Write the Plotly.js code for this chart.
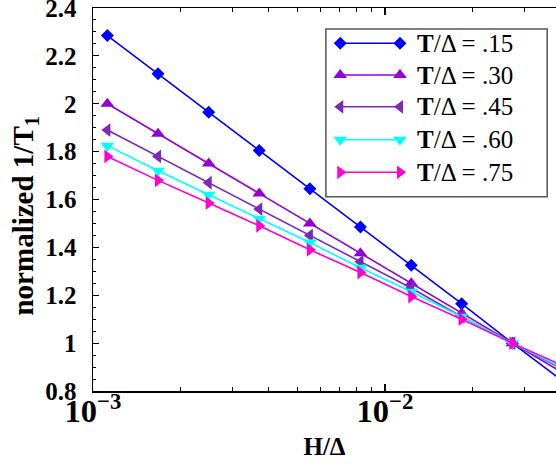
<!DOCTYPE html>
<html>
<head>
<meta charset="utf-8">
<script src="https://cdn.plot.ly/plotly-3.0.1.min.js"></script>
<style>
  html, body { margin: 0; padding: 0; background: #fff; }
  #chart { width: 556px; height: 464px; }
</style>
</head>
<body>
<div id="chart"></div>
<script>
// Field values H/Δ (log scale)
const fieldH = [0.00112, 0.00167, 0.00249, 0.00371, 0.00553, 0.00824, 0.0123, 0.0183, 0.0273, 0.0408];

// Normalized relaxation rate 1/T1 for each temperature
const rateT15 = [2.285, 2.125, 1.965, 1.805, 1.645, 1.485, 1.325, 1.165, 1.00, 0.84];
const rateT30 = [2.00, 1.875, 1.75, 1.625, 1.50, 1.375, 1.25, 1.125, 1.00, 0.875];
const rateT45 = [1.89, 1.78, 1.67, 1.56, 1.45, 1.34, 1.23, 1.11, 1.00, 0.89];
const rateT60 = [1.825, 1.72, 1.62, 1.52, 1.42, 1.315, 1.215, 1.11, 1.00, 0.895];
const rateT75 = [1.78, 1.68, 1.585, 1.49, 1.39, 1.295, 1.195, 1.10, 1.00, 0.905];

const seriesLabels = ['.15', '.30', '.45', '.60', '.75'];

// Y tick positions and labels
const yTickVals = [0.8, 1.0, 1.2, 1.4, 1.6, 1.8, 2.0, 2.2, 2.4];
const yTickText = ['0.8', '1', '1.2', '1.4', '1.6', '1.8', '2', '2.2', '2.4'];

const FONT = '"Liberation Serif", "Times New Roman", serif';

const styles = [
  { color: '#0000ff', symbol: 'diamond', size: 10 },
  { color: '#9400d3', symbol: 'triangle-up', size: 12 },
  { color: '#7b2ab8', symbol: 'triangle-left', size: 12 },
  { color: '#00ffff', symbol: 'triangle-down', size: 12 },
  { color: '#ff00d0', symbol: 'triangle-right', size: 12 }
];

const allRates = [rateT15, rateT30, rateT45, rateT60, rateT75];

const traces = allRates.map((ys, i) => ({
  type: 'scatter',
  mode: 'lines+markers',
  x: fieldH,
  y: ys,
  name: 'T/Δ = ' + seriesLabels[i],
  line: { color: styles[i].color, width: 1.6 },
  marker: { color: styles[i].color, symbol: styles[i].symbol, size: styles[i].size },
  showlegend: false
}));

// Hand-built legend box: a line sample with a marker at each end, then the label
const legendBox = { x0: 0.503, x1: 0.981, y0: 0.507, y1: 0.945 };
const legendRows = [0.908, 0.825, 0.742, 0.656, 0.571];
const sampleX = [0.534, 0.663];
const textX = 0.695;

legendRows.forEach((ry, i) => {
  traces.push({
    type: 'scatter',
    mode: 'lines+markers',
    xaxis: 'x2', yaxis: 'y2',
    x: sampleX,
    y: [ry, ry],
    line: { color: styles[i].color, width: 1.6 },
    marker: { color: styles[i].color, symbol: styles[i].symbol, size: styles[i].size },
    cliponaxis: false,
    showlegend: false,
    hoverinfo: 'skip'
  });
});

const annotations = legendRows.map((ry, i) => ({
  xref: 'paper', yref: 'paper',
  x: textX, y: ry,
  xanchor: 'left', yanchor: 'middle',
  text: '<b>T</b>/Δ = ' + seriesLabels[i],
  showarrow: false,
  font: { family: FONT, size: 25, color: '#000' }
}));

// Vertical axis title
annotations.push({
  xref: 'paper', yref: 'paper',
  x: -0.147, y: 0.458,
  xanchor: 'center', yanchor: 'middle',
  textangle: -90,
  text: 'normalized 1/T<sub>1</sub>',
  showarrow: false,
  font: { family: FONT, size: 29, weight: 'bold', color: '#000' }
});

const layout = {
  width: 556,
  height: 464,
  margin: { l: 93, r: 0, t: 8, b: 73 },
  paper_bgcolor: '#fff',
  plot_bgcolor: '#fff',
  showlegend: false,
  font: { family: FONT, color: '#000' },
  xaxis: {
    type: 'log',
    range: [-3, -1.4144],
    dtick: 1,
    exponentformat: 'power',
    showgrid: false,
    zeroline: false,
    showline: true,
    linecolor: '#000',
    linewidth: 1.5,
    mirror: 'ticks',
    ticks: 'inside',
    ticklen: 7,
    tickwidth: 1.2,
    tickcolor: '#000',
    minor: { ticks: 'inside', ticklen: 4, tickwidth: 1, tickcolor: '#000', dtick: 'D1', showgrid: false },
    tickfont: { family: FONT, size: 26, weight: 'bold' },
    ticklabelstandoff: -8,
    title: { text: 'H/Δ', font: { family: FONT, size: 25, weight: 'bold' }, standoff: 9 },
    automargin: false
  },
  yaxis: {
    range: [0.8, 2.4],
    tickmode: 'array',
    tickvals: yTickVals,
    ticktext: yTickText,
    ticklabeloverflow: 'allow',
    showgrid: false,
    zeroline: false,
    showline: true,
    linecolor: '#000',
    linewidth: 1.5,
    mirror: false,
    ticks: 'inside',
    ticklen: 6,
    tickwidth: 1.2,
    tickcolor: '#000',
    minor: { ticks: 'inside', ticklen: 3, tickwidth: 1, tickcolor: '#000', tickmode: 'linear', tick0: 0.8, dtick: 0.05, showgrid: false },
    tickfont: { family: FONT, size: 25, weight: 'bold' },
    ticklabelstandoff: 10,
    automargin: false
  },
  xaxis2: { overlaying: 'x', range: [0, 1], visible: false, fixedrange: true },
  yaxis2: { overlaying: 'y', range: [0, 1], visible: false, fixedrange: true },
  shapes: [{
    type: 'rect', xref: 'paper', yref: 'paper',
    x0: legendBox.x0, x1: legendBox.x1, y0: legendBox.y0, y1: legendBox.y1,
    line: { color: '#555', width: 1.5 },
    fillcolor: 'rgba(255,255,255,0)',
    layer: 'above'
  }],
  annotations: annotations
};

Plotly.newPlot('chart', traces, layout, { displayModeBar: false, staticPlot: true });
</script>
</body>
</html>
